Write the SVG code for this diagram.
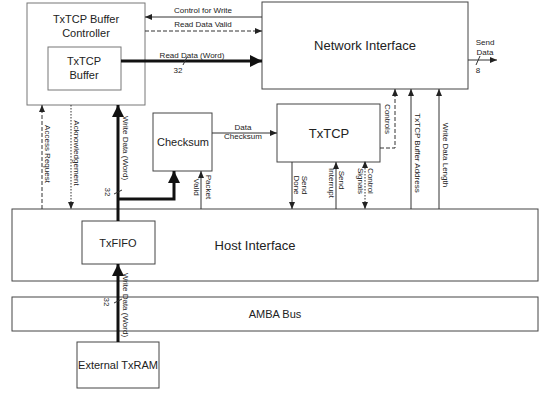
<svg xmlns="http://www.w3.org/2000/svg" width="543" height="393" viewBox="0 0 543 393">
<style>
.box{fill:#fff;stroke:#444;stroke-width:1}
.lt{fill:#fff;stroke:#777;stroke-width:1}
text{font-family:"Liberation Sans",Arial,sans-serif;fill:#222}
.big{font-size:13px}
.mid{font-size:11px}
.sm{font-size:8px}
.thin{fill:none;stroke:#333;stroke-width:1}
.thick{fill:none;stroke:#111;stroke-width:3}
.dash{stroke-dasharray:4 2}
.dot{stroke-dasharray:1.5 1.5}
</style>
<defs>
<marker id="a" markerUnits="userSpaceOnUse" markerWidth="8" markerHeight="8" refX="7" refY="4" orient="auto"><path d="M0,1 L7,4 L0,7 Z" fill="#222"/></marker>
<marker id="as" markerUnits="userSpaceOnUse" markerWidth="8" markerHeight="8" refX="1" refY="4" orient="auto"><path d="M7,1 L0,4 L7,7 Z" fill="#222"/></marker>
<marker id="A" markerUnits="userSpaceOnUse" markerWidth="14" markerHeight="12" refX="12" refY="6" orient="auto"><path d="M0,0 L12,6 L0,12 Z" fill="#111"/></marker>
</defs>
<g id="buffer-controller">
<rect class="lt" x="27" y="3" width="118" height="102"/>
<text class="mid" x="86" y="23" text-anchor="middle">TxTCP Buffer</text>
<text class="mid" x="86" y="37" text-anchor="middle">Controller</text>
</g>
<g id="txtcp-buffer">
<rect class="lt" x="48" y="47" width="73" height="43"/>
<text class="mid" x="84" y="65" text-anchor="middle">TxTCP</text>
<text class="mid" x="84" y="79" text-anchor="middle">Buffer</text>
</g>
<g id="network-interface">
<rect class="box" x="262" y="2" width="206" height="87"/>
<text class="big" x="365" y="50" text-anchor="middle">Network Interface</text>
</g>
<g id="checksum">
<rect class="box" x="153" y="113" width="59" height="58"/>
<text class="mid" x="183" y="146" text-anchor="middle">Checksum</text>
</g>
<g id="txtcp">
<rect class="box" x="277" y="104" width="103" height="58"/>
<text class="big" x="329" y="138" text-anchor="middle">TxTCP</text>
</g>
<g id="host-interface">
<rect class="box" x="12" y="209" width="526" height="72"/>
<text class="big" x="255" y="250" text-anchor="middle">Host Interface</text>
</g>
<g id="txfifo">
<rect class="box" x="82" y="221" width="73" height="43"/>
<text class="mid" x="118" y="247" text-anchor="middle">TxFIFO</text>
</g>
<g id="amba-bus">
<rect class="box" x="12" y="297" width="526" height="34"/>
<text class="mid" x="275" y="318" text-anchor="middle">AMBA Bus</text>
</g>
<g id="external-txram">
<rect class="box" x="77" y="342" width="82" height="46"/>
<text class="mid" x="118" y="369" text-anchor="middle">External TxRAM</text>
</g>
<g id="connectors">
<line class="thin" x1="262" y1="17" x2="145" y2="17" marker-end="url(#a)"/>
<text class="sm" x="203" y="13" text-anchor="middle">Control for Write</text>
<line class="thin dash" x1="145" y1="31" x2="262" y2="31" marker-end="url(#a)"/>
<text class="sm" x="203" y="27" text-anchor="middle">Read Data Valid</text>
<line class="thick" x1="121" y1="61" x2="262" y2="61" marker-end="url(#A)"/>
<text class="sm" x="192" y="58" text-anchor="middle">Read Data (Word)</text>
<line class="thin" x1="183" y1="65" x2="187" y2="57"/>
<text class="sm" x="178" y="73" text-anchor="middle">32</text>
<line class="thin" x1="468" y1="60" x2="497" y2="60" marker-end="url(#a)"/>
<text class="sm" x="485" y="45" text-anchor="middle">Send</text>
<text class="sm" x="485" y="55" text-anchor="middle">Data</text>
<line class="thin" x1="476" y1="65" x2="480" y2="56"/>
<text class="sm" x="478" y="73" text-anchor="middle">8</text>
<line class="thin" x1="212" y1="133" x2="277" y2="133" marker-end="url(#a)"/>
<text class="sm" x="243" y="130" text-anchor="middle">Data</text>
<text class="sm" x="243" y="139" text-anchor="middle">Checksum</text>
<line class="thick" x1="118" y1="342" x2="118" y2="264" marker-end="url(#A)"/>
<text class="sm" transform="translate(125,305) rotate(90)" text-anchor="middle" dominant-baseline="central">Write Data (Word)</text>
<line class="thin" x1="114" y1="303" x2="122" y2="299"/>
<text class="sm" transform="translate(106,302) rotate(90)" text-anchor="middle" dominant-baseline="central">32</text>
<line class="thick" x1="118" y1="221" x2="118" y2="105" marker-end="url(#A)"/>
<polyline class="thick" points="118,199 174,199 174,171" marker-end="url(#A)"/>
<text class="sm" transform="translate(125,148) rotate(90)" text-anchor="middle" dominant-baseline="central">Write Data (Word)</text>
<line class="thin" x1="114" y1="194" x2="122" y2="190"/>
<text class="sm" transform="translate(107,192) rotate(90)" text-anchor="middle" dominant-baseline="central">32</text>
<line class="thin" x1="201" y1="209" x2="201" y2="171" marker-end="url(#a)"/>
<text class="sm" transform="translate(208,187) rotate(90)" text-anchor="middle" dominant-baseline="central">Packet</text>
<text class="sm" transform="translate(196,187) rotate(90)" text-anchor="middle" dominant-baseline="central">Valid</text>
<line class="thin dash" x1="42" y1="209" x2="42" y2="105" marker-end="url(#a)"/>
<text class="sm" transform="translate(47,154) rotate(90)" text-anchor="middle" dominant-baseline="central">Access Request</text>
<line class="thin dot" x1="71" y1="105" x2="71" y2="209" marker-end="url(#a)"/>
<text class="sm" transform="translate(76,153) rotate(90)" text-anchor="middle" dominant-baseline="central">Acknowledgement</text>
<line class="thin" x1="292" y1="162" x2="292" y2="209" marker-end="url(#a)"/>
<text class="sm" transform="translate(304,185) rotate(90)" text-anchor="middle" dominant-baseline="central">Send</text>
<text class="sm" transform="translate(296,185) rotate(90)" text-anchor="middle" dominant-baseline="central">Done</text>
<line class="thin" x1="336" y1="209" x2="336" y2="162" marker-end="url(#a)"/>
<text class="sm" transform="translate(341,180) rotate(90)" text-anchor="middle" dominant-baseline="central">Send</text>
<text class="sm" transform="translate(331,183) rotate(90)" text-anchor="middle" dominant-baseline="central">Interrupt</text>
<line class="thin dot" x1="365" y1="162" x2="365" y2="209" marker-start="url(#as)" marker-end="url(#a)"/>
<text class="sm" transform="translate(370,181) rotate(90)" text-anchor="middle" dominant-baseline="central">Control</text>
<text class="sm" transform="translate(360,181) rotate(90)" text-anchor="middle" dominant-baseline="central">Signals</text>
<polyline class="thin dash" points="380,148 395,148 395,89" marker-end="url(#a)"/>
<text class="sm" transform="translate(387,119) rotate(90)" text-anchor="middle" dominant-baseline="central">Controls</text>
<line class="thin" x1="411" y1="209" x2="411" y2="89" marker-end="url(#a)"/>
<text class="sm" transform="translate(417,153) rotate(90)" text-anchor="middle" dominant-baseline="central">TxTCP Buffer Address</text>
<line class="thin" x1="439" y1="209" x2="439" y2="89" marker-end="url(#a)"/>
<text class="sm" transform="translate(445,155) rotate(90)" text-anchor="middle" dominant-baseline="central">Write Data Length</text>
</g>
</svg>
